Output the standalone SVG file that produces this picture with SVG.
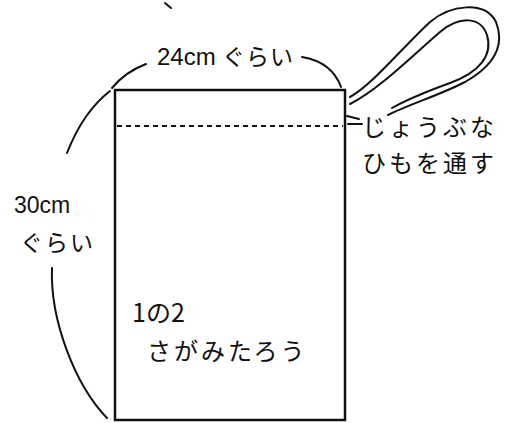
<svg xmlns="http://www.w3.org/2000/svg" width="506" height="423" viewBox="0 0 506 423">
<style>
.ln{fill:none;stroke:#111;stroke-width:2;stroke-linecap:round}
.bag{fill:#fff;stroke:#111;stroke-width:2.5}
.t{font-family:"Noto Sans CJK JP","Noto Sans",sans-serif;fill:#111}
.d{font-family:"Liberation Sans",Arial,sans-serif;fill:#111}
</style>
<rect width="506" height="423" fill="#fff"/>
<g id="bag">
<rect class="bag" x="115" y="90" width="230" height="330"/>
<line x1="117" y1="126" x2="343" y2="126" stroke="#111" stroke-width="2" stroke-dasharray="5,4"/>
</g>
<g id="cord">
<path class="ln" d="M350,97 C372,85 400,50 430,22 C450,5 485,0 496,22 C505,45 495,65 465,82 C440,95 410,104 388,115"/>
<path class="ln" d="M350,104 C378,90 410,58 440,32 C458,17 480,15 487,35 C493,55 480,72 450,83 C428,91 408,99 392,108"/>
</g>
<g id="connectors">
<path class="ln" d="M112,88 Q125,72 146,64"/>
<path class="ln" d="M302,57 Q332,62 341,87"/>
<path class="ln" d="M110,91 Q83,112 67,153"/>
<path class="ln" d="M52,268 C50,320 75,385 107,418"/>
<path class="ln" d="M347,116 L359,119 M348,124 L362,124"/>
<path class="ln" d="M165,3 L171,8"/>
</g>
<g id="label-width">
<text class="d" x="157" y="65" font-size="24">24cm</text>
<text class="t" x="222" y="65" font-size="23" letter-spacing="1">ぐらい</text>
</g>
<g id="label-height">
<text class="d" x="14" y="213" font-size="23">30cm</text>
<text class="t" x="20" y="251" font-size="23" letter-spacing="2">ぐらい</text>
</g>
<g id="label-cord">
<text class="t" x="362" y="136" font-size="24" letter-spacing="3">じょうぶな</text>
<text class="t" x="362" y="172" font-size="24" letter-spacing="3">ひもを通す</text>
</g>
<g id="label-name">
<text class="t" x="132" y="322" font-size="25">1の2</text>
<text class="t" x="147" y="360" font-size="24" letter-spacing="3">さがみたろう</text>
</g>
</svg>
